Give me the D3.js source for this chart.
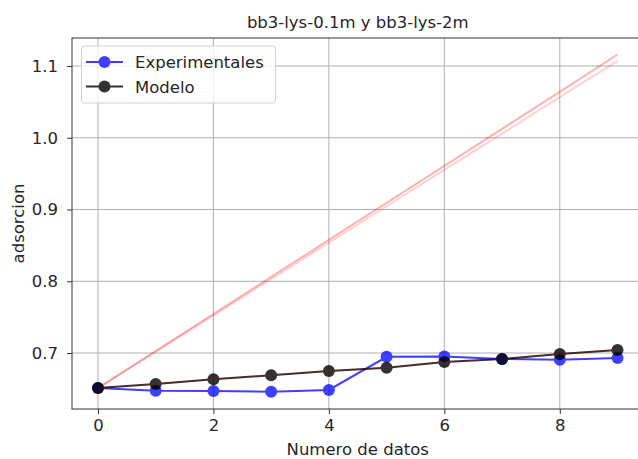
<!DOCTYPE html>
<html>
<head>
<meta charset="utf-8">
<script src="https://cdn.jsdelivr.net/npm/d3@7"></script>
<style>
  body { margin: 0; background: #fff; }
  text { font-family: "DejaVu Sans", sans-serif; fill: #262626; }
</style>
</head>
<body>
<div id="chart"></div>
<script>
const width = 638
const height = 459

const indices = [0, 1, 2, 3, 4, 5, 6, 7, 8, 9]
const experimentales = [0.6512, 0.6475, 0.6472, 0.6460, 0.6485, 0.6948, 0.6950, 0.6918, 0.6905, 0.6932]
const modelo = [0.6512, 0.6568, 0.6633, 0.6690, 0.6749, 0.6795, 0.6875, 0.6916, 0.6986, 0.7042]
const rojoA = [0.6512, 0.7028, 0.7544, 0.8060, 0.8576, 0.9092, 0.9608, 1.0124, 1.0640, 1.1160]
const rojoB = [0.6512, 0.7018, 0.7525, 0.8032, 0.8538, 0.9045, 0.9552, 1.0058, 1.0565, 1.1072]
const xTicks = [0, 2, 4, 6, 8]
const yTicks = [0.7, 0.8, 0.9, 1.0, 1.1]

const mLeft = 72, mRight = 643.5, mTop = 38, mBottom = 409
const fontSize = '16.5px'

const xScale = d3.scaleLinear().domain([-0.45, 9.45]).range([mLeft, mRight])
const yScale = d3.scaleLinear().domain([0.622, 1.139]).range([mBottom, mTop])

const svg = d3.select('#chart').append('svg').attr('width', width).attr('height', height)

// grid
svg.append('g').selectAll('line').data(xTicks).enter().append('line')
  .attr('x1', d => xScale(d)).attr('x2', d => xScale(d))
  .attr('y1', mTop).attr('y2', mBottom)
  .attr('stroke', '#b0b0b0').attr('stroke-width', 1)
svg.append('g').selectAll('line').data(yTicks).enter().append('line')
  .attr('x1', mLeft).attr('x2', mRight)
  .attr('y1', d => yScale(d)).attr('y2', d => yScale(d))
  .attr('stroke', '#b0b0b0').attr('stroke-width', 1)

const line = d3.line().x((d, i) => xScale(indices[i])).y(d => yScale(d))

// red lines
svg.append('path').attr('d', line(rojoB)).attr('fill', 'none')
  .attr('stroke', 'red').attr('stroke-opacity', 0.18).attr('stroke-width', 2)
svg.append('path').attr('d', line(rojoA)).attr('fill', 'none')
  .attr('stroke', 'red').attr('stroke-opacity', 0.3).attr('stroke-width', 2)

function drawSeries(values, color, alpha) {
  const g = svg.append('g').attr('opacity', alpha)
  g.append('path').attr('d', line(values)).attr('fill', 'none')
    .attr('stroke', color).attr('stroke-width', 2)
  g.selectAll('circle').data(values).enter().append('circle')
    .attr('cx', (d, i) => xScale(indices[i]))
    .attr('cy', d => yScale(d))
    .attr('r', 6)
    .attr('fill', color)
}
drawSeries(experimentales, 'blue', 0.75)
drawSeries(modelo, 'black', 0.8)

// faint red trace over the model line
svg.append('path').attr('d', line(modelo)).attr('fill', 'none')
  .attr('stroke', 'red').attr('stroke-opacity', 0.2).attr('stroke-width', 1)

// frame
svg.append('rect').attr('x', mLeft).attr('y', mTop)
  .attr('width', mRight - mLeft).attr('height', mBottom - mTop)
  .attr('fill', 'none').attr('stroke', '#333').attr('stroke-width', 1)

const xAxis = d3.axisBottom(xScale).tickValues(xTicks).tickSize(5).tickPadding(9).tickFormat(d3.format('d'))
const yAxis = d3.axisLeft(yScale).tickValues(yTicks).tickSize(5).tickPadding(9).tickFormat(d3.format('.1f'))

const gx = svg.append('g').attr('transform', 'translate(0,' + mBottom + ')').call(xAxis)
const gy = svg.append('g').attr('transform', 'translate(' + mLeft + ',0)').call(yAxis)
;[gx, gy].forEach(function(g) {
  g.select('.domain').remove()
  g.selectAll('.tick line').attr('stroke', '#333')
  g.selectAll('.tick text').attr('font-size', fontSize).attr('fill', '#262626')
    .attr('font-family', 'DejaVu Sans')
})
gx.selectAll('.tick text').attr('dy', '0.5em')

svg.append('text').attr('x', (mLeft + mRight) / 2).attr('y', 27.5)
  .attr('text-anchor', 'middle').attr('font-size', fontSize)
  .text('bb3-lys-0.1m y bb3-lys-2m')

svg.append('text').attr('x', (mLeft + mRight) / 2).attr('y', 455)
  .attr('text-anchor', 'middle').attr('font-size', fontSize)
  .text('Numero de datos')

svg.append('text').attr('transform', 'translate(23.5,' + ((mTop + mBottom) / 2) + ') rotate(-90)')
  .attr('text-anchor', 'middle').attr('font-size', fontSize)
  .text('adsorcion')

// legend
const legend = svg.append('g')
legend.append('rect').attr('x', 81.5).attr('y', 46).attr('width', 194).attr('height', 57)
  .attr('rx', 3).attr('fill', 'white').attr('fill-opacity', 0.8)
  .attr('stroke', '#d0d0d0').attr('stroke-width', 1)
const legendItems = [
  { label: 'Experimentales', color: 'blue', alpha: 0.75 },
  { label: 'Modelo', color: 'black', alpha: 0.8 }
]
legendItems.forEach(function(item, i) {
  const y = 62 + i * 24.5
  const g = legend.append('g').attr('opacity', item.alpha)
  g.append('line').attr('x1', 86).attr('x2', 123).attr('y1', y).attr('y2', y)
    .attr('stroke', item.color).attr('stroke-width', 2)
  g.append('circle').attr('cx', 104.5).attr('cy', y).attr('r', 6).attr('fill', item.color)
  legend.append('text').attr('x', 135).attr('y', y + 6).attr('font-size', fontSize)
    .text(item.label)
})
</script>
</body>
</html>
